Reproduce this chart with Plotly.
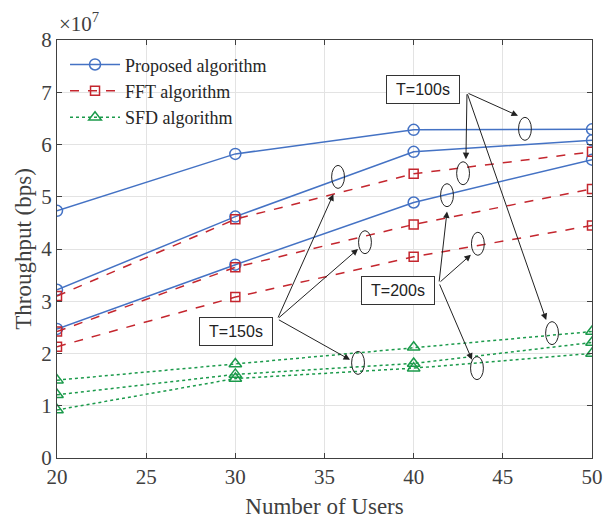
import plotly.graph_objects as go

users = [20, 30, 40, 50]
proposed_100 = [4.73e7, 5.82e7, 6.28e7, 6.29e7]
proposed_150 = [3.22e7, 4.62e7, 5.86e7, 6.08e7]
proposed_200 = [2.47e7, 3.70e7, 4.89e7, 5.71e7]
fft_100 = [3.10e7, 4.57e7, 5.44e7, 5.86e7]
fft_150 = [2.42e7, 3.65e7, 4.47e7, 5.15e7]
fft_200 = [2.13e7, 3.08e7, 3.85e7, 4.45e7]
sfd_100 = [1.49e7, 1.80e7, 2.12e7, 2.42e7]
sfd_150 = [1.21e7, 1.60e7, 1.81e7, 2.21e7]
sfd_200 = [0.92e7, 1.52e7, 1.72e7, 2.00e7]
x_ticks = [20, 25, 30, 35, 40, 45, 50]
y_tickvals = [0, 1e7, 2e7, 3e7, 4e7, 5e7, 6e7, 7e7, 8e7]
y_ticktext = ["0", "1", "2", "3", "4", "5", "6", "7", "8"]

BLUE = "#4472C4"
RED = "#C4262E"
GREEN = "#1B9A4B"
SERIF = "Liberation Serif"
SANS = "Liberation Sans"

fig = go.Figure()

def add(y, name, color, dash, symbol, size, show):
    fig.add_trace(go.Scatter(
        x=users, y=y, mode="lines+markers", name=name, showlegend=show,
        legendgroup=name,
        line=dict(color=color, width=1.5, dash=dash),
        marker=dict(symbol=symbol, size=size, color="rgba(255,255,255,0)",
                    line=dict(color=color, width=1.5)),
    ))

for i, y in enumerate([proposed_100, proposed_150, proposed_200]):
    add(y, "Proposed algorithm", BLUE, "solid", "circle", 11, i == 0)
for i, y in enumerate([fft_100, fft_150, fft_200]):
    add(y, "FFT algorithm", RED, "dash", "square", 9, i == 0)
for i, y in enumerate([sfd_100, sfd_150, sfd_200]):
    add(y, "SFD algorithm", GREEN, "dot", "triangle-up", 11, i == 0)

# ellipses (centres in data units, y in 1e7)
ellipses = [(46.24, 6.30), (42.77, 5.45), (47.76, 2.39),
            (35.76, 5.38), (37.27, 4.13), (36.88, 1.82),
            (41.87, 5.03), (43.60, 4.10), (43.55, 1.72)]
shapes = []
for cx, cy in ellipses:
    dx = 0.36
    dy = 0.22e7
    shapes.append(dict(type="circle", xref="x", yref="y",
                       x0=cx - dx, x1=cx + dx, y0=cy * 1e7 - dy, y1=cy * 1e7 + dy,
                       line=dict(color="#222222", width=1)))

annotations = []
arrows = [
    ((42.99, 6.99), (45.85, 6.55)),
    ((42.99, 6.99), (42.93, 5.72)),
    ((42.99, 6.99), (47.43, 2.64)),
    ((32.36, 2.66), (35.50, 5.05)),
    ((32.36, 2.66), (36.88, 4.00)),
    ((32.36, 2.66), (36.43, 1.88)),
    ((41.42, 3.35), (41.87, 4.72)),
    ((41.42, 3.35), (43.21, 3.89)),
    ((41.42, 3.35), (43.27, 1.88)),
]
for (ox, oy), (tx, ty) in arrows:
    annotations.append(dict(x=tx, y=ty * 1e7, ax=ox, ay=oy * 1e7,
                            xref="x", yref="y", axref="x", ayref="y",
                            text="", showarrow=True, arrowhead=2, arrowsize=1.3,
                            arrowwidth=1, arrowcolor="#222222"))

labels = [("T=100s", 40.52, 7.05), ("T=150s", 30.01, 2.43), ("T=200s", 39.12, 3.21)]
for t, x, y in labels:
    annotations.append(dict(x=x, y=y * 1e7, xref="x", yref="y", text=t,
                            showarrow=False, font=dict(family=SANS, size=16, color="#222222"),
                            width=64, height=19,
                            bordercolor="#333333", borderwidth=1, borderpad=4,
                            bgcolor="white"))

annotations.append(dict(x=0.0, y=1.0, xref="paper", yref="paper", xanchor="left",
                        yanchor="bottom", yshift=2, text="×10<sup>7</sup>", showarrow=False,
                        font=dict(family=SERIF, size=21, color="#404040")))

fig.update_layout(
    width=605, height=519,
    margin=dict(l=57, r=13, t=40, b=61, autoexpand=False),
    paper_bgcolor="white", plot_bgcolor="white",
    font=dict(family=SERIF, size=21, color="#404040"),
    shapes=shapes, annotations=annotations,
    legend=dict(x=0.015, y=0.985, xanchor="left", yanchor="top",
                bgcolor="rgba(255,255,255,0)", font=dict(family=SERIF, size=18, color="#262626"),
                tracegroupgap=0, itemwidth=50),
    showlegend=True,
)
fig.update_xaxes(range=[20, 50], tickvals=x_ticks, showgrid=True, gridcolor="#E3E3E3",
                 showline=True, linecolor="#404040", linewidth=1, mirror="allticks",
                 ticks="inside", ticklen=5, tickcolor="#404040", zeroline=False,
                 automargin=False,
                 title=dict(text="Number of Users", font=dict(size=23, color="#404040")),
                 tickfont=dict(size=21))
fig.update_yaxes(range=[0, 8e7], tickvals=y_tickvals, ticktext=y_ticktext, showgrid=True,
                 gridcolor="#E3E3E3", showline=True, linecolor="#404040", linewidth=1,
                 mirror="allticks", ticks="inside", ticklen=5, tickcolor="#404040",
                 zeroline=False, automargin=False,
                 title=dict(text="Throughput (bps)", font=dict(size=23, color="#404040"),
                            standoff=3),
                 tickfont=dict(size=21))

fig.write_html("out.html", config={"displayModeBar": False},
               post_script="document.body.style.margin='0';")
